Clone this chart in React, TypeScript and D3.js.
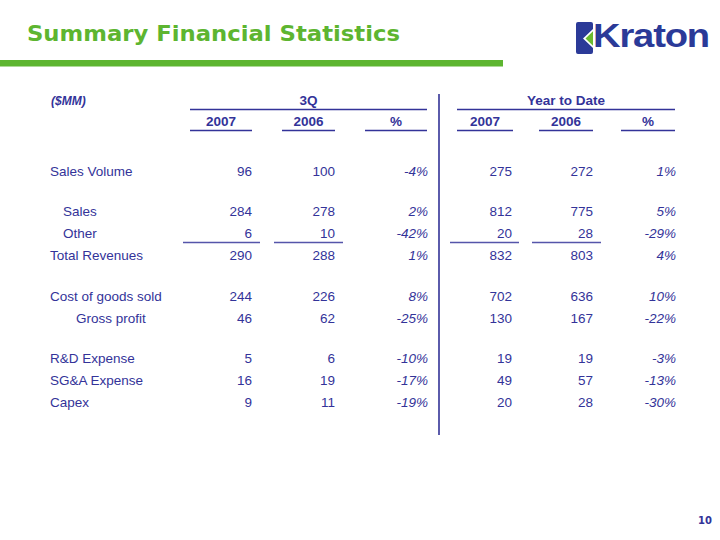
import React from "react";
import * as d3 from "d3";

const rowLabels = [
  "Sales Volume",
  "Sales",
  "Other",
  "Total Revenues",
  "Cost of goods sold",
  "Gross profit",
  "R&D Expense",
  "SG&A Expense",
  "Capex",
];
const rowIndent = [0, 1, 1, 0, 0, 2, 0, 0, 0];
const rowGroup = [0, 1, 1, 1, 2, 2, 3, 3, 3];

const q3_2007 = [96, 284, 6, 290, 244, 46, 5, 16, 9];
const q3_2006 = [100, 278, 10, 288, 226, 62, 6, 19, 11];
const q3_pct = ["-4%", "2%", "-42%", "1%", "8%", "-25%", "-10%", "-17%", "-19%"];
const ytd_2007 = [275, 812, 20, 832, 702, 130, 19, 49, 20];
const ytd_2006 = [272, 775, 28, 803, 636, 167, 19, 57, 28];
const ytd_pct = ["1%", "5%", "-29%", "4%", "10%", "-22%", "-3%", "-13%", "-30%"];

const groupHeaders = ["3Q", "Year to Date"];
const colHeaders = ["2007", "2006", "%"];
const unitLabel = "($MM)";
const title = "Summary Financial Statistics";
const pageNumber = "10";

const NAVY = "#333399";
const GREEN = "#5db530";
const FONT = "'Liberation Sans', Arial, sans-serif";

// column layout: [underline start, underline end, value right edge]
const cols = [
  { x0: 190, x1: 252, right: 252 },
  { x0: 282, x1: 335, right: 335 },
  { x0: 365, x1: 427, right: 428 },
  { x0: 457, x1: 513, right: 512 },
  { x0: 539, x1: 593, right: 593 },
  { x0: 621, x1: 675, right: 676 },
];
const groups = [
  { x0: 190, x1: 427 },
  { x0: 457, x1: 675 },
];
const subtotalLines = [
  { x0: 183, x1: 260 },
  { x0: 274, x1: 343 },
  { x0: 450, x1: 519 },
  { x0: 532, x1: 601 },
];

export default function App() {
  const rowIdx = d3.scaleLinear().domain([0, 1]).range([175.5, 197.5]);
  const groupOff = d3.scaleLinear().domain([0, 1]).range([0, 18.5]);
  const y = (i: number) => rowIdx(i) + groupOff(rowGroup[i]);
  const indent = d3.scaleLinear().domain([0, 1]).range([50, 63]);

  const columns: (number | string)[][] = [q3_2007, q3_2006, q3_pct, ytd_2007, ytd_2006, ytd_pct];
  const fmt = d3.format("d");

  return (
    <div style={{ position: "fixed", left: 0, top: 0, width: 720, height: 540, background: "#fff" }}>
      <svg width={720} height={540} style={{ display: "block" }}>
        <rect x={0} y={0} width={720} height={540} fill="#fff" />
        {/* Title */}
        <text
          x={27}
          y={41}
          fill={GREEN}
          fontFamily="'DejaVu Sans', Verdana, sans-serif"
          fontWeight="bold"
          fontSize={22}
          textLength={373}
          lengthAdjust="spacingAndGlyphs"
        >
          {title}
        </text>
        <rect x={0} y={60} width={503} height={6.5} fill={GREEN} />

        {/* Logo */}
        <path
          d="M578,22 H591 Q593,22 593,24 V29 L583,38.5 L593,48 V52 Q593,54 591,54 H578 Q576,54 576,52 V24 Q576,22 578,22 Z"
          fill="#2b3a98"
        />
        <path d="M585.5,38.5 L593,31.2 V45.8 Z" fill="#6cbb2e" />
        <text
          x={593}
          y={47}
          fill="#2b3a98"
          fontFamily="'Liberation Sans', Arial, sans-serif"
          fontWeight="bold"
          fontSize={33}
          textLength={116}
          lengthAdjust="spacingAndGlyphs"
          letterSpacing={-1}
        >
          Kraton
        </text>

        {/* Unit label */}
        <text x={51} y={105} fill={NAVY} fontFamily={FONT} fontWeight="bold" fontStyle="italic" fontSize={12}>
          {unitLabel}
        </text>

        {/* Group headers */}
        {groups.map((g, gi) => (
          <g key={"g" + gi}>
            <text
              x={(g.x0 + g.x1) / 2}
              y={105}
              textAnchor="middle"
              fill={NAVY}
              fontFamily={FONT}
              fontWeight="bold"
              fontSize={13.5}
            >
              {groupHeaders[gi]}
            </text>
            <line x1={g.x0} x2={g.x1} y1={109.5} y2={109.5} stroke={NAVY} strokeWidth={1.5} />
          </g>
        ))}

        {/* Column headers */}
        {cols.map((c, ci) => (
          <g key={"c" + ci}>
            <text
              x={(c.x0 + c.x1) / 2}
              y={126}
              textAnchor="middle"
              fill={NAVY}
              fontFamily={FONT}
              fontWeight="bold"
              fontSize={13.5}
            >
              {colHeaders[ci % 3]}
            </text>
            <line x1={c.x0} x2={c.x1} y1={130.5} y2={130.5} stroke={NAVY} strokeWidth={1.5} />
          </g>
        ))}

        {/* Divider */}
        <line x1={439} x2={439} y1={94} y2={435} stroke="#4a4aa2" strokeWidth={1.8} />

        {/* Rows */}
        {rowLabels.map((lab, i) => (
          <g key={"r" + i}>
            <text x={indent(rowIndent[i])} y={y(i)} fill={NAVY} fontFamily={FONT} fontSize={13.5}>
              {lab}
            </text>
            {columns.map((col, ci) => (
              <text
                key={ci}
                x={cols[ci].right}
                y={y(i)}
                textAnchor="end"
                fill={NAVY}
                fontFamily={FONT}
                fontSize={13.5}
                fontStyle={ci % 3 === 2 ? "italic" : "normal"}
              >
                {typeof col[i] === "number" ? fmt(col[i] as number) : col[i]}
              </text>
            ))}
          </g>
        ))}

        {/* Subtotal lines under "Other" */}
        {subtotalLines.map((l, li) => (
          <line
            key={"s" + li}
            x1={l.x0}
            x2={l.x1}
            y1={(y(2) + y(3)) / 2 - 6.5}
            y2={(y(2) + y(3)) / 2 - 6.5}
            stroke="#5555aa"
            strokeWidth={1.6}
          />
        ))}

        {/* Page number */}
        <text x={712} y={524} textAnchor="end" fill={NAVY} fontFamily="'DejaVu Sans', Verdana, sans-serif" fontWeight="bold" fontSize={10}>
          {pageNumber}
        </text>
      </svg>
    </div>
  );
}
